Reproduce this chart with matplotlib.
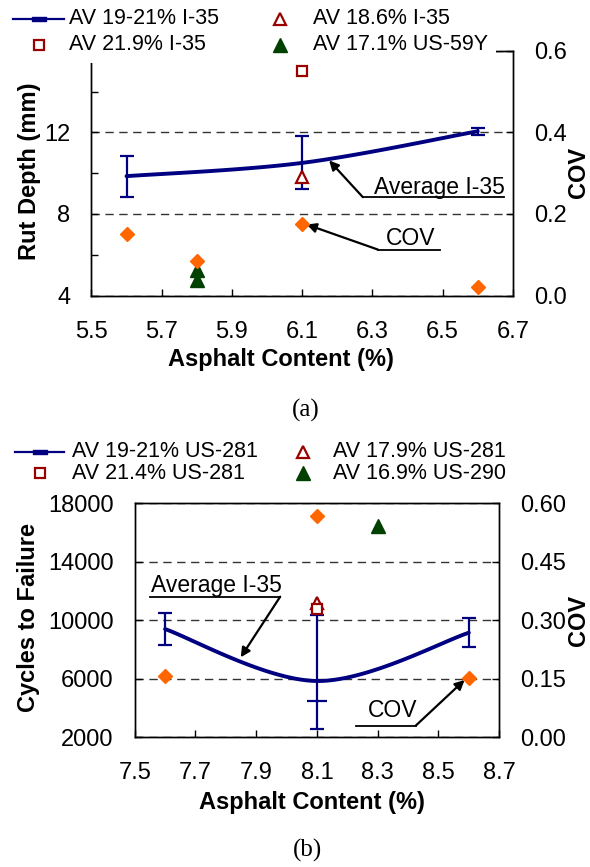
import numpy as np
import matplotlib
matplotlib.use("Agg")
import matplotlib.pyplot as plt
from matplotlib.lines import Line2D
from matplotlib.patches import Rectangle
from matplotlib.path import Path

plt.rcParams['font.family'] = ['Liberation Sans', 'DejaVu Sans']

# ---------------- (a) rut depth data ----------------
ac_a = [5.6, 6.1, 6.6]
rut_mean = [9.85, 10.5, 12.05]
rut_err = [1.0, 1.3, 0.17]
ac_a_186 = [6.1]
rut_186 = [9.8]
ac_a_219 = [6.1]
rut_219 = [15.0]
ac_a_us59 = [5.8, 5.8]
rut_us59 = [5.25, 4.75]
ac_a_cov = [5.6, 5.8, 6.1, 6.6]
cov_a = [0.15, 0.085, 0.175, 0.02]
xticks_a = [5.5, 5.7, 5.9, 6.1, 6.3, 6.5, 6.7]
labels_a = ["AV 19-21% I-35", "AV 21.9% I-35", "AV 18.6% I-35", "AV 17.1% US-59Y"]

# ---------------- (b) cycles to failure data ----------------
ac_b = [7.6, 8.1, 8.6]
cyc_mean = [9400, 5850, 9150]
cyc_err_lo = [1100, 3280, 1000]
cyc_err_hi = [1100, 4520, 1000]
cyc_cap_x = [8.1]
cyc_cap_y = [4500]
ac_b_179 = [8.1]
cyc_179 = [11150]
ac_b_214 = [8.1]
cyc_214 = [10800]
ac_b_us290 = [8.3]
cyc_us290 = [16450]
ac_b_cov = [7.6, 8.1, 8.6]
cov_b = [0.157, 0.567, 0.151]
xticks_b = [7.5, 7.7, 7.9, 8.1, 8.3, 8.5, 8.7]
labels_b = ["AV 19-21% US-281", "AV 21.4% US-281", "AV 17.9% US-281", "AV 16.9% US-290"]

NAVY = '#000080'
DRED = '#990000'
DGREEN = '#004000'
ORANGE = '#FF6600'

W, H = 590, 867
fig = plt.figure(figsize=(W / 100, H / 100), dpi=100)


def fx(x):
    return x / W


def fy(y):
    return 1 - y / H


def smooth(x, y, n=60):
    """Bezier smoothing through the points (control points at 1/6 of neighbour chords)."""
    P = np.column_stack([x, y]).astype(float)
    m = len(P)
    t = np.linspace(0, 1, n)[:, None]
    segs = []
    for i in range(m - 1):
        p0, p1, p2, p3 = P[max(i - 1, 0)], P[i], P[i + 1], P[min(i + 2, m - 1)]
        c1 = p1 + (p2 - p0) / 6
        c2 = p2 - (p3 - p1) / 6
        seg = (1 - t) ** 3 * p1 + 3 * (1 - t) ** 2 * t * c1 + 3 * (1 - t) * t ** 2 * c2 + t ** 3 * p2
        segs.append(seg if i == 0 else seg[1:])
    S = np.vstack(segs)
    return S[:, 0], S[:, 1]


# legend marker for the mean series (short thick bar)
bar_marker = Path([(-1, -0.35), (1, -0.35), (1, 0.35), (-1, 0.35), (-1, -0.35)],
                  [Path.MOVETO, Path.LINETO, Path.LINETO, Path.LINETO, Path.CLOSEPOLY])

sty_open_tri = dict(linestyle='none', marker='^', mfc='white', mec=DRED, mew=1.6, ms=8)
sty_open_sq = dict(linestyle='none', marker='s', mfc='white', mec=DRED, mew=1.6, ms=7)
sty_green = dict(linestyle='none', marker='^', mfc=DGREEN, mec=DGREEN, ms=9.5)
sty_cov = dict(linestyle='none', marker='D', mfc=ORANGE, mec=ORANGE, ms=7)

TICK_FS = 17
LAB_FS = 17
NOTE_FS = 16.5
LEG_FS = 15.5


def style_axes(ax, axr):
    for a in (ax, axr):
        for s in a.spines.values():
            s.set_linewidth(1.0)
    ax.tick_params(axis='x', which='both', direction='in', length=5, width=1,
                   pad=18, labelsize=TICK_FS, top=False)
    ax.tick_params(axis='y', which='both', direction='in', length=5, width=1,
                   pad=15, labelsize=TICK_FS, right=False)
    axr.tick_params(axis='y', direction='in', length=5, width=1, pad=15,
                    labelsize=TICK_FS)
    ax.yaxis.grid(True, which='major', linestyle=(0, (6, 4)), color='#333333', lw=1.0)
    ax.set_axisbelow(True)


def draw_mean(ax, x, y, lo, hi):
    xs, ys = smooth(x, y)
    ax.plot(xs, ys, color=NAVY, lw=2.8, solid_capstyle='round', zorder=3)
    ax.errorbar(x, y, yerr=[lo, hi], fmt='none', ecolor=NAVY, elinewidth=1.6,
                capsize=5, capthick=1.6, zorder=3)


def add_legend(y1, y2, hx0, hx1, tx1, mx2, tx2, labels):
    # column 1: mean line, open square ; column 2: open triangle, filled triangle
    fig.add_artist(Line2D([fx(hx0), fx(hx1)], [fy(y1), fy(y1)], color=NAVY, lw=1.6,
                          transform=fig.transFigure, zorder=6))
    fig.add_artist(Line2D([fx((hx0 + hx1) / 2)], [fy(y1)], marker=bar_marker, ms=10,
                          color=NAVY, linestyle='none', transform=fig.transFigure, zorder=6))
    fig.add_artist(Line2D([fx((hx0 + hx1) / 2)], [fy(y2)], transform=fig.transFigure,
                          zorder=6, **sty_open_sq))
    fig.add_artist(Line2D([fx(mx2)], [fy(y1)], transform=fig.transFigure, zorder=6,
                          **sty_open_tri))
    fig.add_artist(Line2D([fx(mx2)], [fy(y2)], transform=fig.transFigure, zorder=6,
                          **sty_green))
    for (xt, yt), lab in zip([(tx1, y1), (tx1, y2), (tx2, y1), (tx2, y2)], labels):
        fig.text(fx(xt), fy(yt), lab, fontsize=LEG_FS, va='center', ha='left', zorder=6)


# ======================= (a) =======================
ax1 = fig.add_axes([fx(91.4), fy(295.5), fx(512.8) - fx(91.4), fy(50.7) - fy(295.5)])
ax1r = ax1.twinx()
ax1.set_xlim(5.5, 6.7)
ax1.set_ylim(4, 16)
ax1r.set_ylim(0, 0.6)
ax1.set_xticks(xticks_a)
ax1.set_xticklabels([f"{v:.1f}" for v in xticks_a])
ax1.set_yticks([4, 8, 12, 16])
ax1.set_yticklabels(["4", "8", "12", ""])
ax1.set_yticks([6, 10, 14], minor=True)
ax1r.set_yticks([0, 0.2, 0.4, 0.6])
ax1r.set_yticklabels(["0.0", "0.2", "0.4", "0.6"])
style_axes(ax1, ax1r)

draw_mean(ax1, ac_a, rut_mean, rut_err, rut_err)
ax1.plot(ac_a_186, rut_186, zorder=4, **sty_open_tri)
ax1.plot(ac_a_219, rut_219, zorder=4, **sty_open_sq)
ax1.plot(ac_a_us59, rut_us59, zorder=4, **sty_green)
ax1r.plot(ac_a_cov, cov_a, zorder=5, **sty_cov)

# callouts
ax1.annotate('', xy=(6.177, 10.62), xytext=(6.273, 8.82),
             arrowprops=dict(arrowstyle='-|>', color='black', lw=1.6, mutation_scale=14,
                             shrinkA=0, shrinkB=0))
ax1.plot([6.273, 6.675], [8.82, 8.82], color='black', lw=1.3, clip_on=False)
ax1.text(6.49, 9.3, "Average I-35", fontsize=NOTE_FS, ha='center', va='center')
ax1.annotate('', xy=(6.113, 7.48), xytext=(6.316, 6.25),
             arrowprops=dict(arrowstyle='-|>', color='black', lw=1.6, mutation_scale=14,
                             shrinkA=0, shrinkB=0))
ax1.plot([6.316, 6.493], [6.25, 6.25], color='black', lw=1.3, clip_on=False)
ax1.text(6.41, 6.78, "COV", fontsize=NOTE_FS, ha='center', va='center')

fig.text(fx(29.5), fy(171), "Rut Depth (mm)", rotation=90, fontsize=LAB_FS,
         fontweight='bold', ha='center', va='center')
fig.text(fx(579), fy(172), "COV", rotation=90, fontsize=LAB_FS,
         fontweight='bold', ha='center', va='center')
fig.text(fx(281), fy(360), "Asphalt Content (%)", fontsize=LAB_FS,
         fontweight='bold', ha='center', va='center')
fig.text(fx(306), fy(410), "(a)", fontsize=18, family='Liberation Serif',
         ha='center', va='center')

# opaque legend panel over the top of the plot frame
fig.add_artist(Rectangle((0, fy(63)), fx(496), 1 - fy(63), transform=fig.transFigure,
                         facecolor='white', edgecolor='none', zorder=5))
add_legend(18.5, 45, 13, 64, 69, 280, 313, labels_a)

# ======================= (b) =======================
ax2 = fig.add_axes([fx(134.7), fy(737.3), fx(499.2) - fx(134.7), fy(503.3) - fy(737.3)])
ax2r = ax2.twinx()
ax2.set_xlim(7.5, 8.7)
ax2.set_ylim(2000, 18000)
ax2r.set_ylim(0, 0.6)
ax2.set_xticks(xticks_b)
ax2.set_xticklabels([f"{v:.1f}" for v in xticks_b])
ax2.set_yticks([2000, 6000, 10000, 14000, 18000])
ax2r.set_yticks([0, 0.15, 0.30, 0.45, 0.60])
ax2r.set_yticklabels(["0.00", "0.15", "0.30", "0.45", "0.60"])
style_axes(ax2, ax2r)

draw_mean(ax2, ac_b, cyc_mean, cyc_err_lo, cyc_err_hi)
ax2.plot(cyc_cap_x, cyc_cap_y, linestyle='none', marker='_', ms=14, mew=1.6,
         color=NAVY, zorder=3)
ax2.plot(ac_b_179, cyc_179, zorder=4, **sty_open_tri)
ax2.plot(ac_b_214, cyc_214, zorder=4, **sty_open_sq)
ax2.plot(ac_b_us290, cyc_us290, zorder=4, **sty_green)
ax2r.plot(ac_b_cov, cov_b, zorder=5, **sty_cov)

ax2.annotate('', xy=(7.849, 7470), xytext=(7.979, 11614),
             arrowprops=dict(arrowstyle='-|>', color='black', lw=1.6, mutation_scale=14,
                             shrinkA=0, shrinkB=0))
ax2.plot([7.549, 7.979], [11614, 11614], color='black', lw=1.3, clip_on=False)
ax2.text(7.768, 12350, "Average I-35", fontsize=NOTE_FS, ha='center', va='center')
ax2.annotate('', xy=(8.586, 5918), xytext=(8.425, 2793),
             arrowprops=dict(arrowstyle='-|>', color='black', lw=1.6, mutation_scale=14,
                             shrinkA=0, shrinkB=0))
ax2.plot([8.227, 8.425], [2793, 2793], color='black', lw=1.3, clip_on=False)
ax2.text(8.35, 3800, "COV", fontsize=NOTE_FS, ha='center', va='center')

fig.text(fx(28.5), fy(618), "Cycles to Failure", rotation=90, fontsize=LAB_FS,
         fontweight='bold', ha='center', va='center')
fig.text(fx(579), fy(620), "COV", rotation=90, fontsize=LAB_FS,
         fontweight='bold', ha='center', va='center')
fig.text(fx(312), fy(803), "Asphalt Content (%)", fontsize=LAB_FS,
         fontweight='bold', ha='center', va='center')
fig.text(fx(308), fy(850), "(b)", fontsize=18, family='Liberation Serif',
         ha='center', va='center')

add_legend(452, 473.5, 15, 64, 71.5, 303, 333, labels_b)

fig.savefig("out.png", dpi=100)
